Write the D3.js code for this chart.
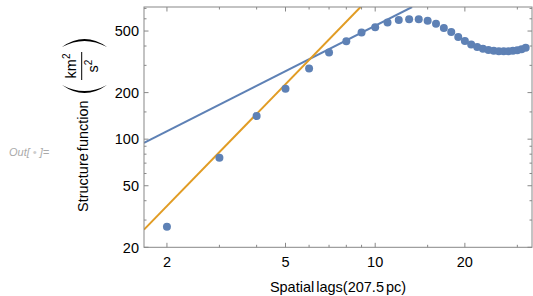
<!DOCTYPE html>
<html>
<head>
<meta charset="utf-8">
<script src="https://cdn.jsdelivr.net/npm/d3@7"></script>
<style>
  body { margin: 0; background: #fff; }
  svg { display: block; font-family: "Liberation Sans", Arial, sans-serif; }
</style>
</head>
<body>
<div id="chart"></div>
<script>
// structure function values vs spatial lag
const lags = [2, 3, 4, 5, 6, 7, 8, 9, 10, 11, 12, 13, 14, 15, 16, 17, 18, 19, 20,
              21, 22, 23, 24, 25, 26, 27, 28, 29, 30, 31, 32];
const sfValues = [27.2, 75.7, 141, 212, 286, 363, 429, 489, 528, 567, 589, 595, 595, 582, 558, 523, 493, 457, 431,
                  409, 394, 384, 377, 373, 370, 370, 370, 373, 375, 381, 390];

// fitted power laws, given by two points each (lag, value)
const blueFit = [[1.675, 94.6], [13.3, 715]];
const orangeFit = [[1.675, 26.0], [8.93, 715]];

const xMajor = [2, 5, 10, 20];
const xMinor = [3, 4, 6, 7, 8, 9, 15, 30];
const yMajor = [20, 50, 100, 200, 500];
const yMinor = [30, 40, 60, 70, 80, 90, 150, 300, 400, 600, 700];

const blue = "#5e81b5", orange = "#e19c24", frameCol = "#888";

const W = 533, H = 296;
const frame = { left: 144, right: 532, top: 7, bottom: 247.3 };

const svg = d3.select("#chart").append("svg")
  .attr("width", W).attr("height", H);

const x = d3.scaleLog().domain([1.675, 33.6]).range([frame.left, frame.right]);
const y = d3.scaleLog().domain([20, 715]).range([frame.bottom, frame.top]);

svg.append("clipPath").attr("id", "clip")
  .append("rect").attr("x", frame.left).attr("y", frame.top)
  .attr("width", frame.right - frame.left).attr("height", frame.bottom - frame.top);

const plot = svg.append("g").attr("clip-path", "url(#clip)");

const line = d3.line().x(d => x(d[0])).y(d => y(d[1]));

plot.append("path").datum(blueFit)
  .attr("d", line).attr("fill", "none")
  .attr("stroke", blue).attr("stroke-width", 2);

plot.append("path").datum(orangeFit)
  .attr("d", line).attr("fill", "none")
  .attr("stroke", orange).attr("stroke-width", 2);

plot.selectAll("circle")
  .data(lags.map((l, i) => [l, sfValues[i]]))
  .join("circle")
  .attr("cx", d => x(d[0]))
  .attr("cy", d => y(d[1]))
  .attr("r", 4)
  .attr("fill", blue);

// frame
svg.append("rect")
  .attr("x", frame.left).attr("y", frame.top)
  .attr("width", frame.right - frame.left).attr("height", frame.bottom - frame.top)
  .attr("fill", "none").attr("stroke", frameCol).attr("stroke-width", 1);

// ticks on all four sides
const ticks = svg.append("g").attr("stroke", frameCol).attr("stroke-width", 1);
function xTicks(vals, len) {
  vals.forEach(v => {
    ticks.append("line").attr("x1", x(v)).attr("x2", x(v)).attr("y1", frame.bottom).attr("y2", frame.bottom - len);
    ticks.append("line").attr("x1", x(v)).attr("x2", x(v)).attr("y1", frame.top).attr("y2", frame.top + len);
  });
}
function yTicks(vals, len) {
  vals.forEach(v => {
    ticks.append("line").attr("y1", y(v)).attr("y2", y(v)).attr("x1", frame.left).attr("x2", frame.left + len);
    ticks.append("line").attr("y1", y(v)).attr("y2", y(v)).attr("x1", frame.right).attr("x2", frame.right - len);
  });
}
xTicks(xMajor, 4.5); xTicks(xMinor, 2.5);
yTicks(yMajor, 4.5); yTicks(yMinor, 2.5);

// tick labels
svg.append("g").selectAll("text").data(xMajor).join("text")
  .attr("x", d => x(d)).attr("y", 267)
  .attr("text-anchor", "middle").attr("font-size", 14.5)
  .text(d => d);

svg.append("g").selectAll("text").data(yMajor).join("text")
  .attr("x", frame.left - 5).attr("y", d => y(d)).attr("dy", "0.36em")
  .attr("text-anchor", "end").attr("font-size", 14.5)
  .text(d => d);

// x title
svg.append("text")
  .attr("x", (frame.left + frame.right) / 2).attr("y", 291.5)
  .attr("text-anchor", "middle").attr("font-size", 14.5)
  .attr("word-spacing", -2)
  .text("Spatial lags(207.5 pc)");

// y title, rotated, with (km²/s²)
const yt = svg.append("g").attr("transform", "translate(88,212) rotate(-90)");
yt.append("text").attr("x", 0).attr("y", 0)
  .attr("font-size", 14.5).attr("word-spacing", -2)
  .text("Structure function");

// big parentheses as thin crescents
yt.append("path")
  .attr("d", "M127,-26 Q111,-3.5 127,19 Q115,-3.5 127,-26 Z")
  .attr("fill", "#000");
yt.append("path")
  .attr("d", "M165,-26 Q181,-3.5 165,19 Q177,-3.5 165,-26 Z")
  .attr("fill", "#000");
// fraction bar
yt.append("line").attr("x1", 132).attr("x2", 160).attr("y1", -6.3).attr("y2", -6.3)
  .attr("stroke", "#000").attr("stroke-width", 1);
const num = yt.append("text").attr("x", 146).attr("y", -12.5)
  .attr("text-anchor", "middle").attr("font-size", 14.5);
num.append("tspan").text("km");
num.append("tspan").attr("font-size", 10).attr("dy", -6).text("2");
const den = yt.append("text").attr("x", 146).attr("y", 10)
  .attr("text-anchor", "middle").attr("font-size", 14.5);
den.append("tspan").text("s");
den.append("tspan").attr("font-size", 10).attr("dy", -6).text("2");

// notebook output label
const out = svg.append("text")
  .attr("x", 9).attr("y", 156)
  .attr("font-size", 11).attr("font-style", "italic").attr("fill", "#aaa");
out.append("tspan").text("Out[");
out.append("tspan").attr("fill", "#ccc").text(" \u2022 ");
out.append("tspan").text("]=");
</script>
</body>
</html>
